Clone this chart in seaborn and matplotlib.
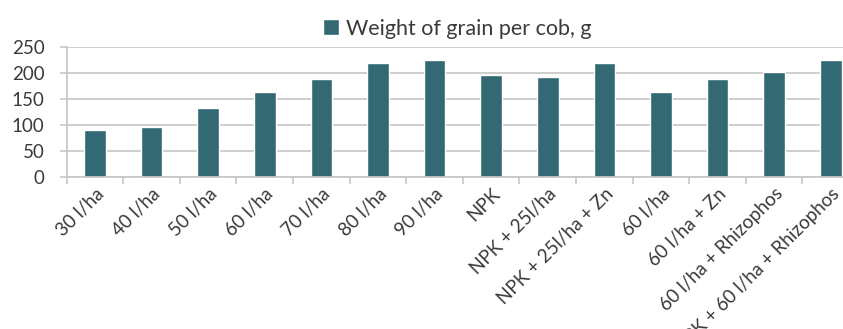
import matplotlib
matplotlib.use("Agg")
import matplotlib.pyplot as plt
import seaborn as sns
import pandas as pd
from matplotlib.ticker import MultipleLocator, FixedLocator

treatments = ["30 l/ha", "40 l/ha", "50 l/ha", "60 l/ha", "70 l/ha", "80 l/ha",
              "90 l/ha", "NPK", "NPK + 25l/ha", "NPK + 25l/ha + Zn", "60 l/ha",
              "60 l/ha + Zn", "60 l/ha + Rhizophos", "NPK + 60 l/ha + Rhizophos"]
grain_weight = [90, 97, 132, 163, 188, 219, 225, 196, 192, 219, 163, 188, 202, 225]
series_name = "Weight of grain per cob, g"

bar_color = "#336972"
text_color = "#3a3a3a"
grid_color = "#c6c6c6"

sns.set_theme(style="white")
plt.rcParams["font.family"] = ["Lato", "DejaVu Sans"]

df = pd.DataFrame({"pos": list(range(len(treatments))), "weight": grain_weight})

fig = plt.figure(figsize=(8.43, 3.29), dpi=100)
ax = fig.add_axes([0.0791, 0.463, 0.94, 0.393])

sns.barplot(data=df, x="pos", y="weight", color=bar_color, width=0.38,
            saturation=1, ax=ax, label=series_name)

ax.set_xlim(-0.5, len(treatments) - 0.5)
ax.set_ylim(0, 250)
ax.yaxis.set_major_locator(MultipleLocator(50))
ax.grid(axis="y", color=grid_color, linewidth=1.2)
ax.set_axisbelow(True)

for side in ("top", "right"):
    ax.spines[side].set_visible(False)
for side in ("left", "bottom"):
    ax.spines[side].set_color(grid_color)
    ax.spines[side].set_linewidth(1.2)

# category labels at bar centres, tick marks at category boundaries
ax.set_xticks(range(len(treatments)))
ax.set_xticklabels(treatments, rotation=45, ha="right", rotation_mode="anchor",
                   fontsize=13.5, color=text_color)
ax.tick_params(axis="x", which="major", length=0, pad=6)
ax.xaxis.set_minor_locator(FixedLocator([i - 0.5 for i in range(len(treatments) + 1)]))
ax.tick_params(axis="x", which="minor", bottom=True, length=5, width=1.2, color=grid_color)

ax.tick_params(axis="y", left=True, length=5, width=1.2, color=grid_color,
               labelsize=13.5, labelcolor=text_color, pad=11)
ax.set_xlabel("")
ax.set_ylabel("")

ax.legend(loc="lower center", bbox_to_anchor=(0.493, 1.0), frameon=False,
          fontsize=15.5, handlelength=0.75, handleheight=0.75, handletextpad=0.3,
          labelcolor=text_color, borderaxespad=0)

fig.savefig("out.png", dpi=100)
